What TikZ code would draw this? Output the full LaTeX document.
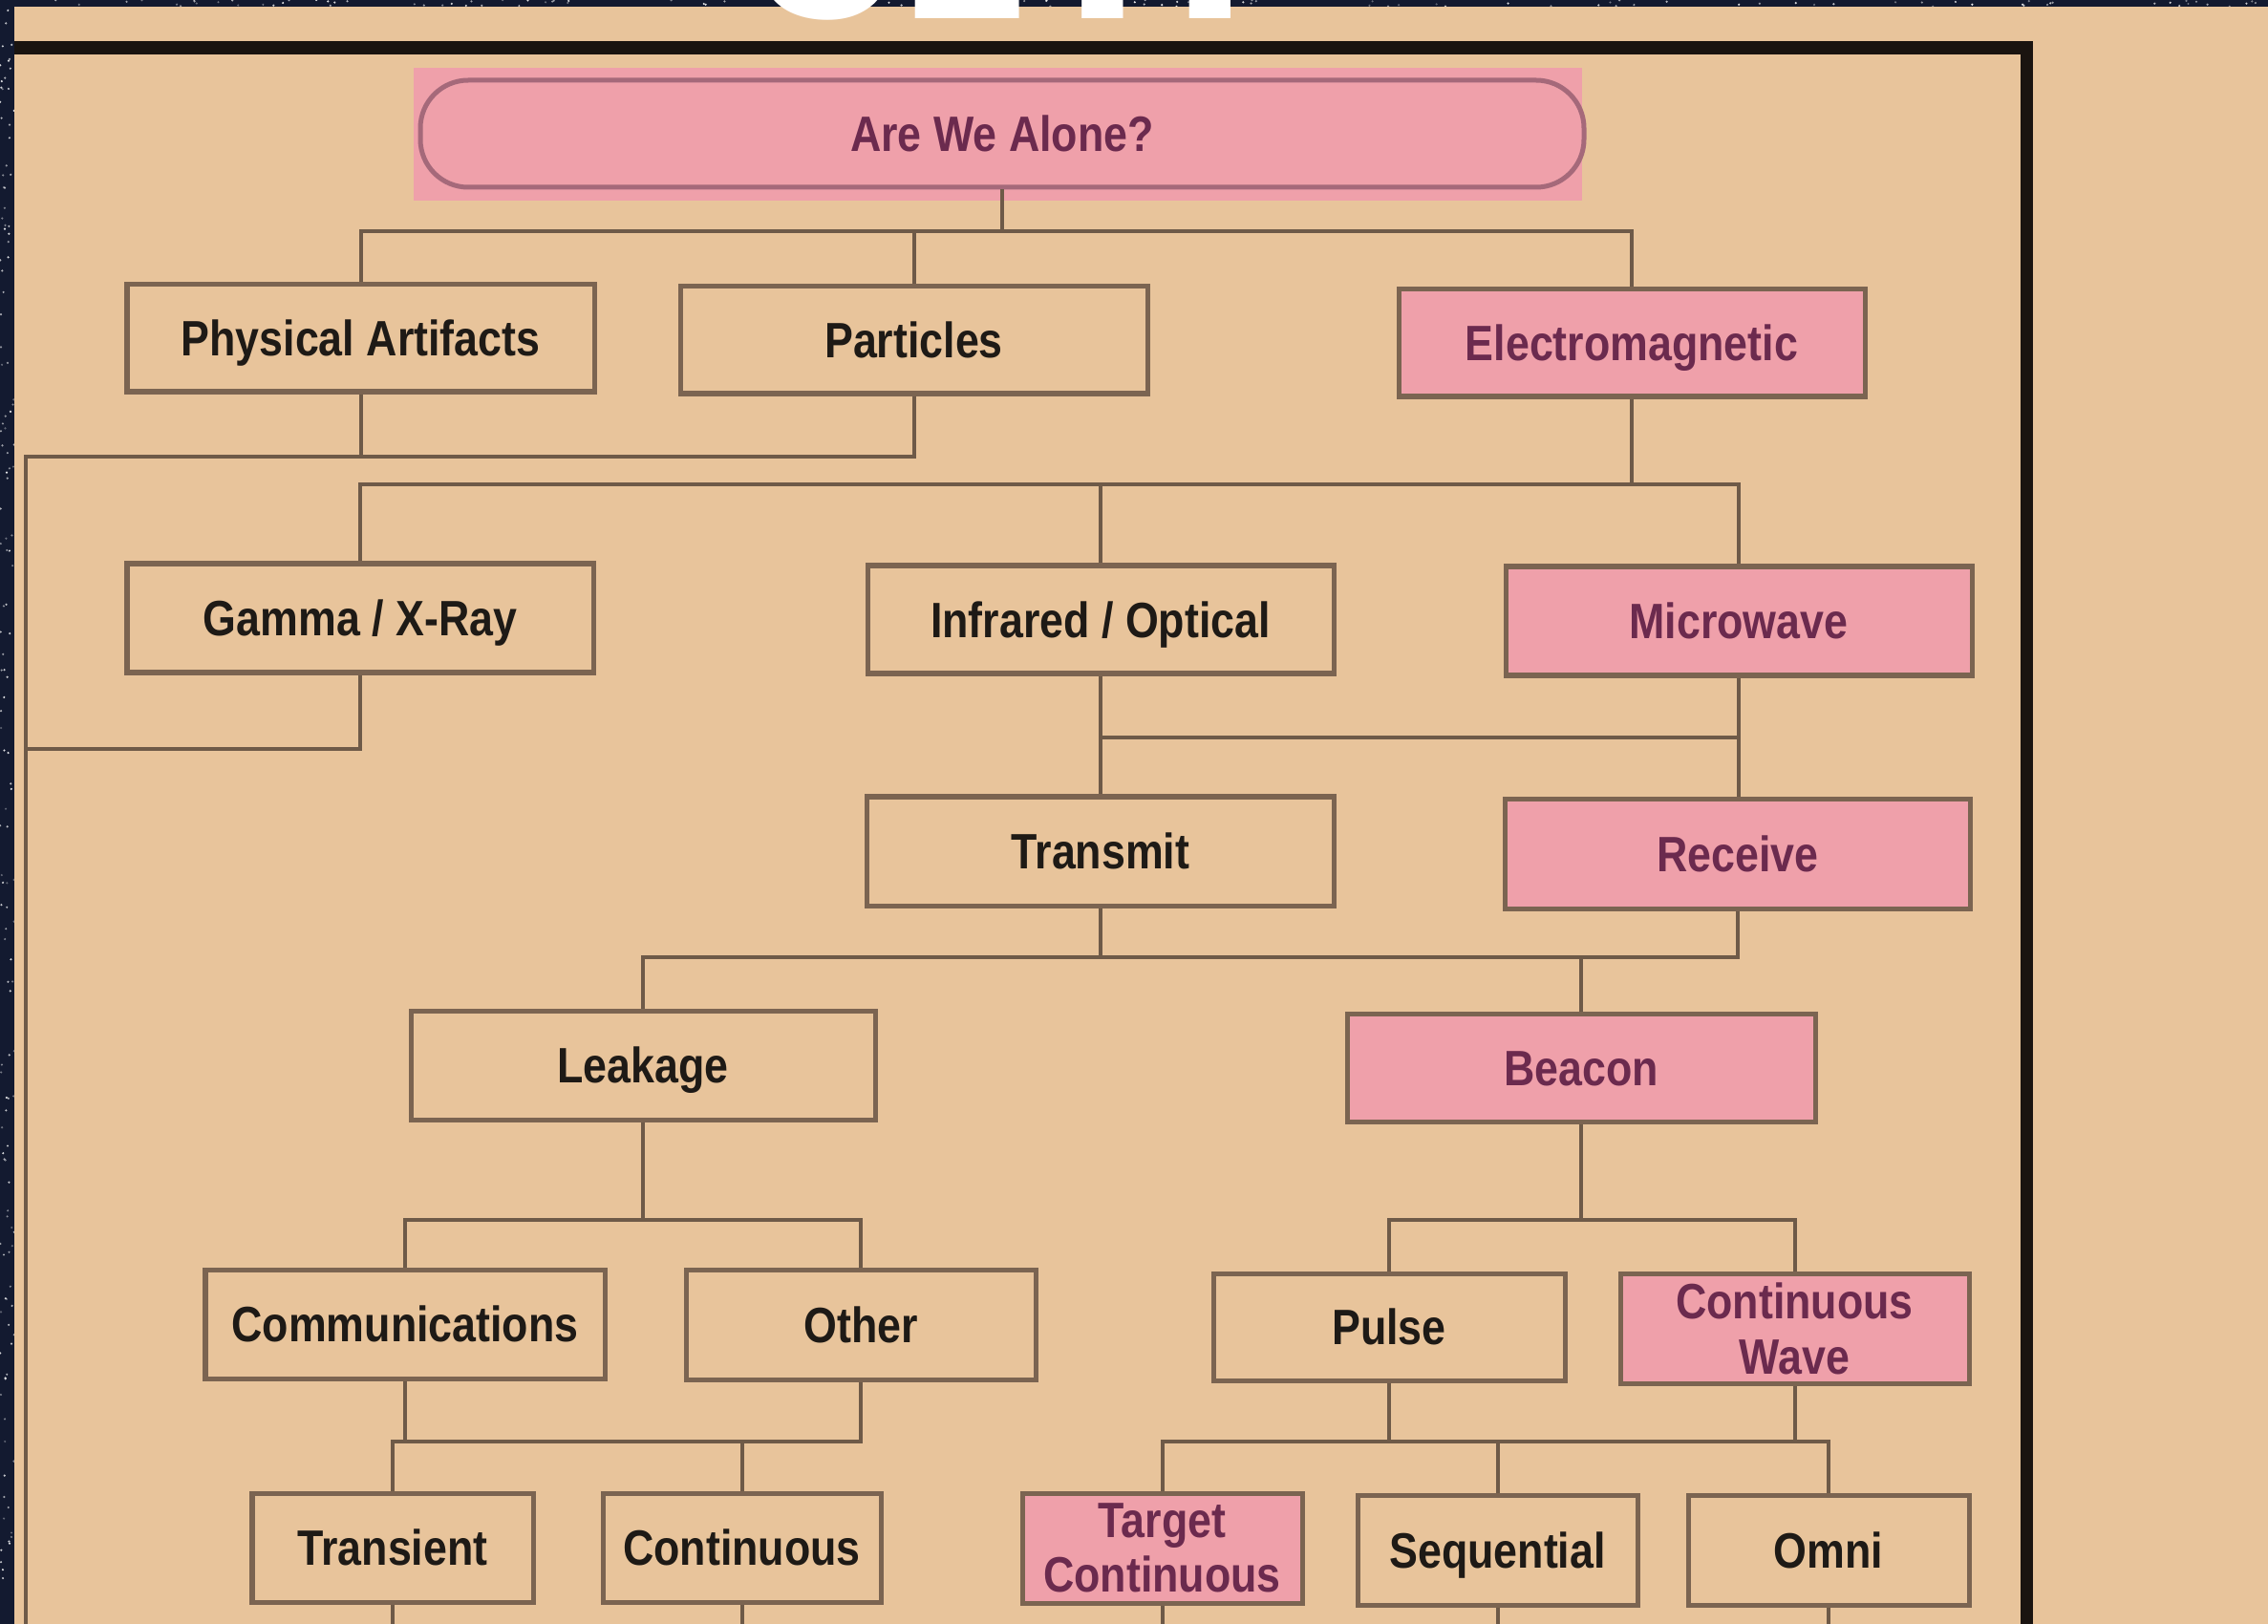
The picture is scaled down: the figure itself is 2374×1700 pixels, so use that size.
\documentclass[tikz,border=0pt]{standalone}
\usepackage{fontspec}
\newfontfamily\chartfont{Liberation Sans}[FakeStretch=0.86]
\newfontfamily\titlefont{Poppins}
\definecolor{space}{HTML}{131A30}
\definecolor{page}{HTML}{E8C49B}
\definecolor{pinkfill}{HTML}{EFA0AA}
\definecolor{boxline}{HTML}{7B6451}
\definecolor{wire}{HTML}{6E5A48}
\definecolor{ink}{HTML}{1E1A16}
\definecolor{plum}{HTML}{6B2A4E}
\definecolor{mauve}{HTML}{A5697A}
\definecolor{frameink}{HTML}{1A1410}
\begin{document}
\begin{tikzpicture}[x=0.01cm, y=-0.01cm,
  lbl/.style={font=\chartfont\bfseries\fontsize{14.8pt}{16.4pt}\selectfont},
  sz/.style 2 args={minimum width=#1*0.01cm, minimum height=#2*0.01cm},
  boxbase/.style={rectangle, draw=boxline, line width=0.05cm, inner sep=0pt, lbl},
  box/.style={boxbase, fill=page, text=ink, text height=10.6pt, text depth=0pt},
  hot/.style={boxbase, fill=pinkfill, text=plum, text height=10.6pt, text depth=0pt},
  hottwo/.style={boxbase, fill=pinkfill, text=plum, align=center},
  conn/.style={draw=wire, line width=0.04cm},
  frameline/.style={draw=frameink, line width=0.13cm}]

% backdrop: night sky strip and the paper sheet
\begin{scope}
  \clip (0,0) rectangle (2374,1700);
  \fill[space] (0,0) rectangle (2374,1700);
  \pgfmathsetseed{42}
  \foreach \k in {1,...,110}{
    \pgfmathsetmacro\sx{rnd*2374}
    \pgfmathsetmacro\sy{rnd*7}
    \pgfmathsetmacro\so{0.3+0.6*rnd}
    \fill[white, opacity=\so] (\sx,\sy) circle (0.012cm);
  }
  \foreach \k in {1,...,140}{
    \pgfmathsetmacro\sx{rnd*15}
    \pgfmathsetmacro\sy{rnd*1700}
    \pgfmathsetmacro\so{0.3+0.6*rnd}
    \fill[white, opacity=\so] (\sx,\sy) circle (0.012cm);
  }
  \fill[page] (15,7) rectangle (2374,1700);
\end{scope}
\useasboundingbox (0,0) rectangle (2374,1700);

% heavy frame
\draw[frameline] (15,50) -- (2121,50) -- (2121,1700);

% root
\fill[pinkfill] (433,71) rectangle (1656,210);
\node[draw=mauve, line width=0.05cm, rounded corners=0.5cm, sz={1218}{112},
      inner sep=0pt, lbl, text=plum, text height=10.6pt, text depth=0pt]
      (alone) at (1049,140) {Are We Alone?};

% level 1
\node[box, sz={489}{112}] (phys) at (377.5,354) {Physical Artifacts};
\node[box, sz={489}{112}] (part) at (956.5,356) {Particles};
\node[hot, sz={488}{112}] (em) at (1708,359) {Electromagnetic};
% level 2
\node[box, sz={488}{114}] (gamma) at (377,647) {Gamma / X-Ray};
\node[box, sz={488}{113}] (ir) at (1152,648.5) {Infrared / Optical};
\node[hot, sz={488}{114}] (mw) at (1820,650) {Microwave};
% level 3
\node[box, sz={489}{114}] (tx) at (1152,891) {Transmit};
\node[hot, sz={487}{115}] (rx) at (1819,894) {Receive};
% level 4
\node[box, sz={486}{114}] (leak) at (673,1115) {Leakage};
\node[hot, sz={490}{113}] (beacon) at (1655,1118) {Beacon};
% level 5
\node[box, sz={418}{114}] (comm) at (424,1386) {Communications};
\node[box, sz={366}{115}] (other) at (901,1386.5) {Other};
\node[box, sz={368}{112}] (pulse) at (1454,1389) {Pulse};
\node[hottwo, sz={365}{115}] (cw) at (1878.5,1391) {Continuous\\Wave};
% level 6
\node[box, sz={294}{114}] (trans) at (411,1620) {Transient};
\node[box, sz={291}{114}] (cont) at (776.5,1620) {Continuous};
\node[hottwo, sz={293}{115}] (target) at (1216.5,1620.5) {Target\\Continuous};
\node[box, sz={293}{115}] (seq) at (1567.5,1622.5) {Sequential};
\node[box, sz={294}{115}] (omni) at (1914,1622.5) {Omni};

% connectors
\coordinate (b1) at (0,242);
\draw[conn] (alone.south) -- (alone.south |- b1);
\draw[conn] (phys.north) -- (phys.north |- b1) -- (em.north |- b1) -- (em.north);
\draw[conn] (part.north) -- (part.north |- b1);

\coordinate (lb) at (27,478);
\coordinate (lbot) at (27,1700);
\coordinate (gb) at (27,784);
\draw[conn] (part.south) -- (part.south |- lb) -- (lb) -- (lbot);
\draw[conn] (phys.south) -- (phys.south |- lb);
\draw[conn] (gamma.south) |- (gb);

\coordinate (b2) at (0,507);
\draw[conn] (em.south) -- (em.south |- b2);
\draw[conn] (gamma.north) -- (gamma.north |- b2) -- (mw.north |- b2) -- (mw.north);
\draw[conn] (ir.north) -- (ir.north |- b2);

\coordinate (b3) at (0,772);
\draw[conn] (ir.south) -- (ir.south |- tx.north);
\draw[conn] (mw.south) -- (mw.south |- rx.north);
\draw[conn] (ir.south |- b3) -- (mw.south |- b3);

\coordinate (b4) at (0,1002);
\draw[conn] (tx.south) -- (tx.south |- b4);
\draw[conn] (leak.north) -- (leak.north |- b4) -- (rx.south |- b4) -- (rx.south);
\draw[conn] (beacon.north) -- (beacon.north |- b4);

\coordinate (b5) at (0,1277);
\draw[conn] (leak.south) -- (leak.south |- b5);
\draw[conn] (comm.north) -- (comm.north |- b5) -- (other.north |- b5) -- (other.north);
\draw[conn] (beacon.south) -- (beacon.south |- b5);
\draw[conn] (pulse.north) -- (pulse.north |- b5) -- (cw.north |- b5) -- (cw.north);

\coordinate (b6) at (0,1509);
\draw[conn] (trans.north) -- (trans.north |- b6) -- (other.south |- b6) -- (other.south);
\draw[conn] (comm.south) -- (comm.south |- b6);
\draw[conn] (cont.north) -- (cont.north |- b6);
\draw[conn] (target.north) -- (target.north |- b6) -- (omni.north |- b6) -- (omni.north);
\draw[conn] (pulse.south) -- (pulse.south |- b6);
\draw[conn] (cw.south) -- (cw.south |- b6);
\draw[conn] (seq.north) -- (seq.north |- b6);

\coordinate (floor) at (0,1700);
\foreach \n in {trans,cont,target,seq,omni}
  \draw[conn] (\n.south) -- (\n.south |- floor);

% large white heading, cut off by the top edge
\begin{scope}
  \clip (0,0) rectangle (2374,1700);
  \node[anchor=base west, inner sep=0pt, text=white,
        font=\titlefont\bfseries\fontsize{72pt}{72pt}\selectfont]
        (seti) at (786,20) {SETI};
\end{scope}
\end{tikzpicture}
\end{document}
